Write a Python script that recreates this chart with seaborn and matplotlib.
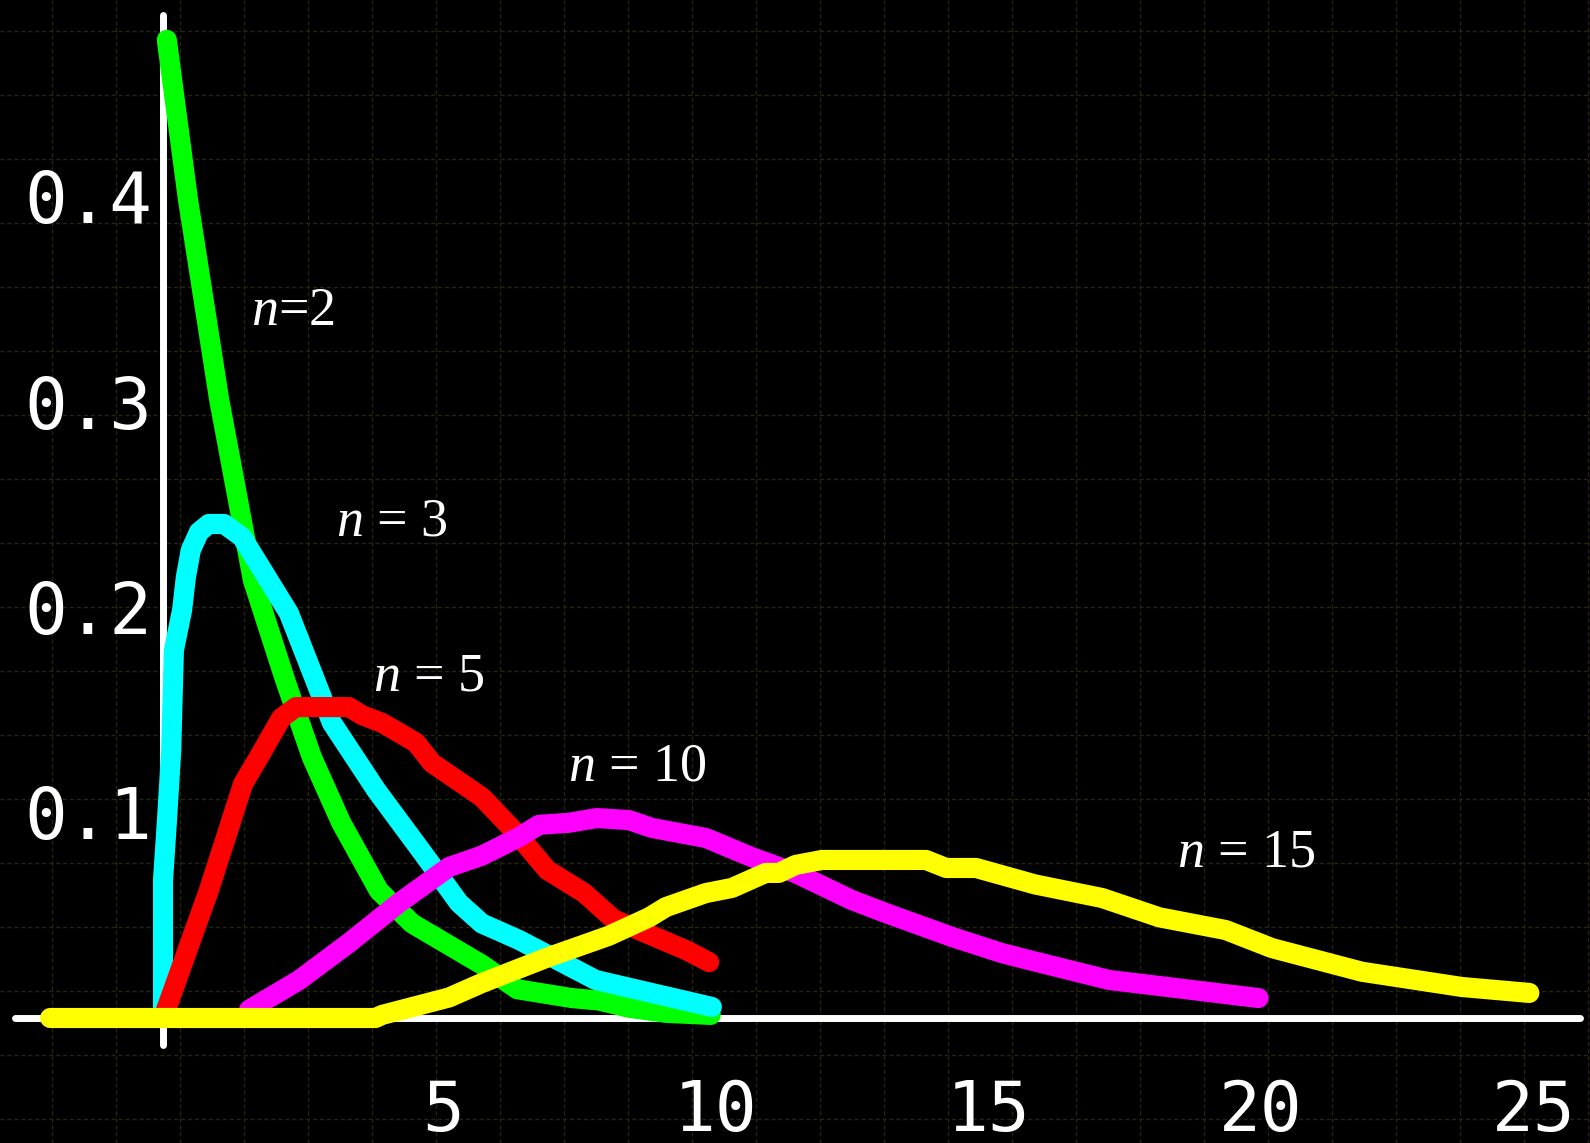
import numpy as np
import pandas as pd
import matplotlib
matplotlib.use("Agg")
import matplotlib.pyplot as plt
import matplotlib.transforms as mtransforms
import seaborn as sns
from matplotlib.ticker import FixedLocator, FixedFormatter

# ---------------- data ----------------
green_x = [0.07, 0.46, 1.03, 1.65, 2.24, 2.73, 3.27, 3.96, 4.57, 5.85, 6.5, 7.5, 8.0, 8.55, 9.23, 10.05]
green_y = [0.476, 0.398, 0.301, 0.213, 0.1645, 0.127, 0.095, 0.062, 0.046, 0.026, 0.014, 0.0097, 0.0085, 0.005, 0.0025, 0.0015]

cyan_x = [0.0, 0.0, 0.07, 0.15, 0.2, 0.35, 0.42, 0.51, 0.66, 0.84, 1.12, 1.45, 2.31, 2.79, 3.10, 3.91, 4.83, 5.43, 5.85, 6.53, 7.94, 10.07]
cyan_y = [0.0, 0.067, 0.095, 0.130, 0.179, 0.1985, 0.2146, 0.2277, 0.2365, 0.2404, 0.2404, 0.234, 0.197, 0.1645, 0.1436, 0.111, 0.078, 0.056, 0.046, 0.038, 0.0185, 0.0054]

red_x = [0.0, 0.07, 0.84, 1.47, 1.76, 2.17, 2.44, 3.41, 3.65, 4.02, 4.64, 4.94, 5.85, 6.48, 7.05, 7.72, 8.27, 9.6, 10.02]
red_y = [0.0, 0.005, 0.062, 0.114, 0.127, 0.146, 0.1513, 0.1513, 0.1474, 0.1436, 0.134, 0.124, 0.1075, 0.09, 0.072, 0.061, 0.048, 0.033, 0.0272]

magenta_x = [1.58, 2.5, 3.41, 4.33, 5.25, 5.85, 6.53, 6.9, 7.45, 7.96, 8.55, 8.97, 9.96, 10.8, 11.6, 12.64, 13.27, 14.48, 15.39, 15.89, 17.36, 18.15, 20.1]
magenta_y = [0.004, 0.0185, 0.0365, 0.056, 0.0735, 0.079, 0.088, 0.094, 0.095, 0.0973, 0.0963, 0.0925, 0.0876, 0.0783, 0.0706, 0.0574, 0.051, 0.0394, 0.0316, 0.0282, 0.0185, 0.016, 0.0097]

yellow_x = [-2.07, 3.9, 4.02, 5.25, 5.85, 7.08, 8.18, 8.92, 9.23, 9.96, 10.44, 11.06, 11.3, 11.61, 12.09, 12.92, 14.0, 14.37, 14.92, 16.0, 17.23, 18.28, 19.5, 20.35, 22.0, 23.83, 25.07]
yellow_y = [0.0, 0.0, 0.0015, 0.010, 0.017, 0.0297, 0.040, 0.049, 0.054, 0.0608, 0.0633, 0.0706, 0.0706, 0.0745, 0.0769, 0.0769, 0.0769, 0.073, 0.073, 0.065, 0.0584, 0.049, 0.0428, 0.034, 0.0225, 0.0151, 0.0122]

series_names = ["n=2", "n=3", "n=5", "n=10", "n=15"]
series_colors = ["#00ff00", "#00ffff", "#ff0000", "#ff00ff", "#ffff00"]

label_texts = [r"$n$=2", r"$n$ = 3", r"$n$ = 5", r"$n$ = 10", r"$n$ = 15"]
label_x = [1.62, 3.18, 3.86, 7.44, 18.6]
label_y = [0.337, 0.235, 0.1595, 0.1155, 0.0735]

x_major = [5, 10, 15, 20, 25]
x_major_labels = ["5", "10", "15", "20", "25"]
y_major = [0.1, 0.2, 0.3, 0.4]
y_major_labels = ["0.1", "0.2", "0.3", "0.4"]

# ---------------- build table ----------------
xs = [green_x, cyan_x, red_x, magenta_x, yellow_x]
ys = [green_y, cyan_y, red_y, magenta_y, yellow_y]
frames = []
for name, x, y in zip(series_names, xs, ys):
    frames.append(pd.DataFrame({"x": x, "y": y, "n": name}))
df = pd.concat(frames, ignore_index=True)

# ---------------- style ----------------
sns.set_style("dark")
plt.rcParams.update({
    "figure.facecolor": "black",
    "axes.facecolor": "black",
    "savefig.facecolor": "black",
    "text.color": "white",
    "mathtext.fontset": "custom",
    "mathtext.it": "Liberation Serif:italic",
    "mathtext.rm": "Liberation Serif",
})
plt.rcParams["font.family"] = ["DejaVu Sans"]

W, H = 1590, 1143
fig = plt.figure(figsize=(W / 100, H / 100), dpi=100)

# background pixel grid
bg = fig.add_axes([0, 0, 1, 1], zorder=0)
bg.set_facecolor("black")
bg.set_xlim(0, W)
bg.set_ylim(H, 0)
bg.set_xticks(np.arange(52, W, 64))
bg.set_yticks(np.arange(31, H, 64))
bg.grid(True, color="#25250f", lw=1.0, ls=(0, (3, 2)))
bg.tick_params(length=0, labelbottom=False, labelleft=False)
for s in bg.spines.values():
    s.set_visible(False)

# main axes covering the figure
x0_px, sx = 163.0, 54.5
y0_px, sy = 1018.0, 2055.0
ax = fig.add_axes([0, 0, 1, 1], zorder=1)
ax.patch.set_alpha(0)

sns.lineplot(data=df, x="x", y="y", hue="n", hue_order=series_names,
             palette=series_colors, sort=False, estimator=None, units="n",
             legend=False, ax=ax)
for line in ax.lines:
    line.set_linewidth(14.5)
    line.set_solid_capstyle("round")
    line.set_solid_joinstyle("round")

ax.set_xlim((0 - x0_px) / sx, (W - x0_px) / sx)
ax.set_ylim((y0_px - H) / sy, y0_px / sy)
ax.set_xlabel("")
ax.set_ylabel("")
ax.grid(False)

for side in ["top", "right"]:
    ax.spines[side].set_visible(False)
ax.spines["left"].set_position(("data", 0))
ax.spines["bottom"].set_position(("data", 0))
ax.spines["left"].set_bounds((y0_px - 1045) / sy, (y0_px - 15) / sy)
ax.spines["bottom"].set_bounds((15 - x0_px) / sx, (1580 - x0_px) / sx)
for side in ["left", "bottom"]:
    sp = ax.spines[side]
    sp.set_visible(True)
    sp.set_color("white")
    sp.set_linewidth(5.0)
    sp.set_capstyle("round")
    sp.set_zorder(0.5)

ax.xaxis.set_major_locator(FixedLocator(x_major))
ax.xaxis.set_major_formatter(FixedFormatter(x_major_labels))
ax.xaxis.set_minor_locator(FixedLocator([v for v in range(1, 26) if v % 5]))
ax.yaxis.set_major_locator(FixedLocator(y_major))
ax.yaxis.set_major_formatter(FixedFormatter(y_major_labels))
ax.yaxis.set_minor_locator(FixedLocator([round(0.02 * k, 2) for k in range(1, 25) if k % 5]))

ax.tick_params(axis="x", which="major", direction="in", length=6, width=4.0,
               color="white", pad=43, labelsize=50, labelcolor="white")
ax.tick_params(axis="x", which="minor", direction="in", length=4, width=1.0, color="#dddddd")
ax.tick_params(axis="y", which="major", direction="in", length=10, width=4.5,
               color="white", pad=8, labelsize=51, labelcolor="white")
ax.tick_params(axis="y", which="minor", direction="in", length=4, width=1.0, color="#dddddd")

shift = mtransforms.ScaledTranslation(8 / 100, 0, fig.dpi_scale_trans)
for lab in ax.get_xticklabels():
    lab.set_fontfamily("DejaVu Sans Mono")
    lab.set_transform(lab.get_transform() + shift)
for lab in ax.get_yticklabels():
    lab.set_fontfamily("DejaVu Sans Mono")

for t, x, y in zip(label_texts, label_x, label_y):
    ax.text(x, y, t, fontsize=39, color="white", ha="left", va="baseline",
            fontfamily="Liberation Serif", zorder=5)

fig.savefig("out.png", dpi=100, facecolor="black")
